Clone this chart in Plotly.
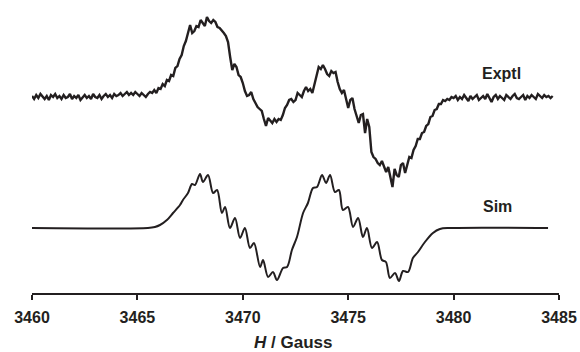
import numpy as np
import plotly.graph_objects as go

# Experimental spectrum: field grid 3460.0 .. 3484.7 G, step 0.1 G
exptl_field = np.round(np.linspace(3460.0, 3484.7, 248), 2)
exptl_signal = [
    1, -2, 2, -1, 3, 0, -2, 1, -3, 2,
    0, 3, -1, 1, -2, 2, -1, 0, 3, -2,
    1, -1, 2, -3, 0, 2, -1, 1, -2, 3,
    0, -1, 2, -2, 1, 3, 0, 2, -1, 3,
    1, 2, 4, 1, 3, 5, 2, 4, 2, 5,
    3, 1, 4, 2, 0, 3, 5, 4, 7, 4,
    9, 8, 13, 11, 17, 16, 22, 21, 29, 31,
    38, 42, 51, 56, 65, 72, 64, 66, 71, 70,
    77, 74, 71, 80, 76, 74, 77, 75, 70, 69,
    67, 64, 61, 55, 40, 27, 33, 30, 22, 20,
    14, 6, 1, 2, 5, -2, -6, -10, -12, -14,
    -22, -29, -21, -24, -26, -22, -25, -22, -23, -18,
    -11, -8, -3, -2, -5, -3, 4, 2, 0, 6,
    10, 6, 8, 4, 12, 20, 30, 28, 32, 28,
    23, 21, 26, 24, 25, 15, 8, 4, 7, -2,
    -11, -3, -1, -12, -18, -26, -18, -17, -36, -22,
    -30, -55, -60, -62, -66, -68, -64, -70, -75, -70,
    -80, -90, -72, -78, -80, -68, -66, -76, -68, -60,
    -61, -53, -49, -42, -42, -36, -35, -29, -27, -20,
    -19, -13, -12, -7, -7, -3, -4, -2, -3, 0,
    -1, 1, -3, 0, -2, 2, -1, -4, 1, -2,
    0, 2, -3, -1, 1, -2, 3, -1, -5, 0,
    2, -2, 1, -1, -3, 2, 0, -2, 1, 3,
    -1, -2, 0, 2, -3, 1, -1, 2, 0, -2,
    3, 1, -1, 2, 0, 1, -1, 1,
]

# Simulated spectrum (read at key points)
sim_field = [
    3460.0, 3465.50, 3465.83, 3466.07, 3466.40, 3466.69, 3467.02, 3467.16,
    3467.40, 3467.59, 3467.73, 3467.97, 3468.11, 3468.35, 3468.59, 3468.78,
    3469.01, 3469.16, 3469.39, 3469.63, 3469.87, 3470.10, 3470.34, 3470.53,
    3470.82, 3470.96, 3471.20, 3471.43, 3471.62, 3471.91, 3472.10, 3472.33,
    3472.57, 3472.86, 3473.09, 3473.33, 3473.52, 3473.76, 3473.95, 3474.14,
    3474.37, 3474.56, 3474.75, 3474.99, 3475.23, 3475.47, 3475.70, 3475.89,
    3476.13, 3476.37, 3476.60, 3476.79, 3476.98, 3477.22, 3477.41, 3477.60,
    3477.84, 3478.07, 3478.31, 3478.64, 3479.02, 3479.35, 3479.83, 3484.48,
]
sim_signal = [
    0, 0, 1, 3, 8, 15, 23, 28,
    35, 44, 43, 54, 46, 53, 35, 38,
    15, 21, 0, 10, -10, 0, -20, -15,
    -39, -32, -49, -44, -52, -40, -39, -22,
    -9, 15, 25, 40, 41, 53, 45, 53,
    36, 38, 18, 21, 1, 10, -9, 0,
    -20, -14, -32, -34, -50, -45, -53, -43,
    -44, -30, -24, -14, -5, -1, 0, 0,
]

x_ticks = [3460, 3465, 3470, 3475, 3480, 3485]
labels = ["Exptl", "Sim"]
x_title = "<b><i>H</i> / Gauss</b>"

EXPTL_OFFSET = 196
SIM_OFFSET = 65
ink = "#231f20"
FONT = "Liberation Sans, Arial, sans-serif"

fig = go.Figure()
fig.add_trace(go.Scatter(
    x=exptl_field, y=np.array(exptl_signal) + EXPTL_OFFSET,
    mode="lines", line=dict(color=ink, width=2.4), hoverinfo="skip"))
fig.add_trace(go.Scatter(
    x=sim_field, y=np.array(sim_signal) + SIM_OFFSET,
    mode="lines", line=dict(color=ink, width=2, shape="spline", smoothing=0.9),
    hoverinfo="skip"))

fig.add_annotation(x=3482.25, y=220, text="<b>" + labels[0] + "</b>", showarrow=False,
                   font=dict(family=FONT, size=16, color=ink))
fig.add_annotation(x=3482.06, y=87, text="<b>" + labels[1] + "</b>", showarrow=False,
                   font=dict(family=FONT, size=16, color=ink))
fig.add_annotation(x=3472.38, xref="x", y=-0.172, yref="paper", yanchor="middle",
                   text=x_title, showarrow=False,
                   font=dict(family=FONT, size=17, color=ink))

fig.update_layout(
    width=580, height=352,
    margin=dict(l=32, r=21, t=5, b=59),
    paper_bgcolor="white", plot_bgcolor="white",
    showlegend=False,
    font=dict(family=FONT, color=ink),
)
fig.update_xaxes(
    range=[3460, 3485], tickvals=x_ticks,
    ticktext=["<b>%d</b>" % t for t in x_ticks],
    showline=True, linecolor=ink, linewidth=1.5,
    ticks="outside", ticklen=5, tickwidth=1.5, tickcolor=ink,
    tickfont=dict(size=16, color=ink), ticklabelstandoff=4,
    showgrid=False, zeroline=False, automargin=False,
)
fig.update_yaxes(range=[0, 288], visible=False, showgrid=False, zeroline=False)

fig.write_html("out.html", config={"displayModeBar": False},
               post_script="document.body.style.margin='0';document.body.style.overflow='hidden';")
